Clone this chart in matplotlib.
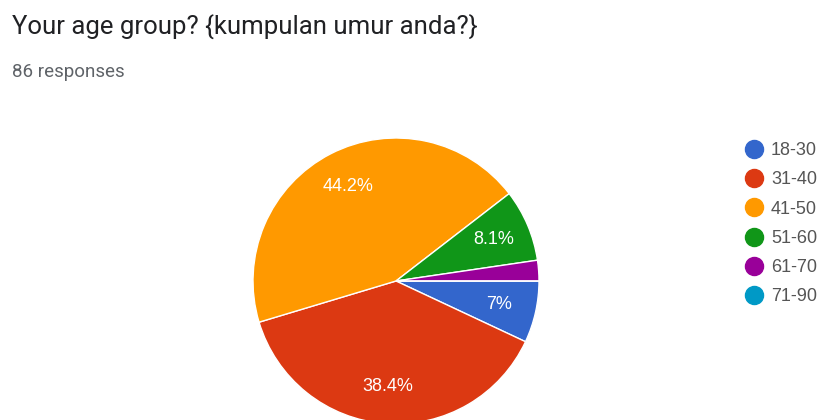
import matplotlib
matplotlib.use('Agg')
import matplotlib.pyplot as plt
from matplotlib.lines import Line2D

title = 'Your age group? {kumpulan umur anda?}'
subtitle = '86 responses'
groups = ['18-30', '31-40', '41-50', '51-60', '61-70', '71-90']
counts = [6, 33, 38, 7, 2, 0]
colors = ['#3366cc', '#dc3912', '#ff9900', '#109618', '#990099', '#0099c6']

W, H = 823, 420
fig = plt.figure(figsize=(W / 100, H / 100), dpi=100)

fig.text(12 / W, 1 - 27 / H, title, fontsize=18.5, color='#202124',
         family='Roboto', va='center', ha='left')
fig.text(12 / W, 1 - 72 / H, subtitle, fontsize=13.5, color='#5f6368',
         family='Roboto', va='center', ha='left')

# pie, center (396, 281) px, radius 143 px
cx, cy, r = 396, 281, 143
lim = 1.05
ax = fig.add_axes([(cx - r * lim) / W, (H - cy - r * lim) / H,
                   2 * r * lim / W, 2 * r * lim / H])


def fmt(p):
    if p < 5:
        return ''
    s = '%.1f' % p
    if s.endswith('.0'):
        s = s[:-2]
    return s + '%'


wedges, texts, autotexts = ax.pie(
    counts, colors=colors, startangle=0, counterclock=False,
    autopct=fmt, pctdistance=0.74,
    wedgeprops=dict(edgecolor='white', linewidth=1),
    textprops=dict(color='white', fontsize=13, family='Liberation Sans'))
ax.set_xlim(-lim, lim)
ax.set_ylim(-lim, lim)
ax.axis('off')

handles = [Line2D([], [], marker='o', linestyle='', color=c, markersize=13)
           for c in colors]
fig.legend(handles, groups, loc='upper left',
           bbox_to_anchor=(734 / W, 1 - 133 / H), frameon=False,
           labelspacing=0.68, handletextpad=0.35,
           handlelength=1.2, borderpad=0,
           prop=dict(family='Liberation Sans', size=13),
           labelcolor='#555555')

fig.savefig('out.png', dpi=100, facecolor='white')
